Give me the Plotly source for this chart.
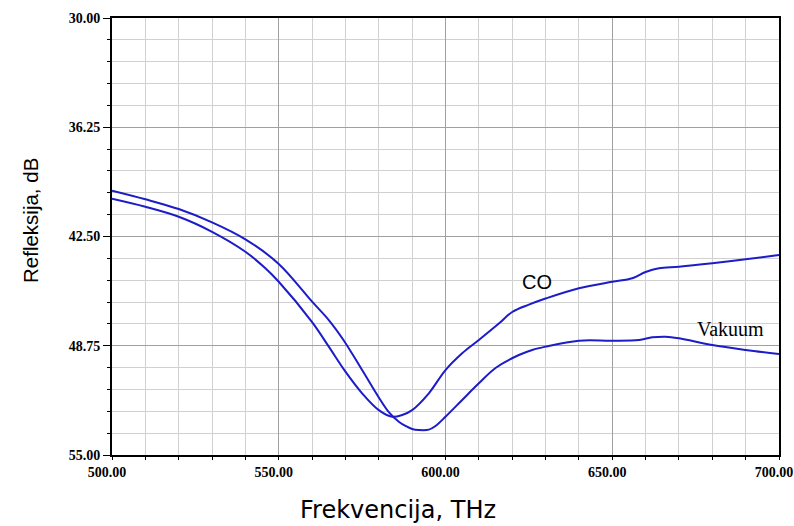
import plotly.graph_objects as go

# Frequency (THz) and reflection (dB)
vak_f = [500, 510, 520, 530, 540, 550, 560, 565, 569.4, 575, 580, 583, 586, 588, 590, 592, 595,
         597, 600, 605, 610, 615, 622, 626, 630, 640, 650, 658, 662, 666, 670, 680, 690, 700]
vak_db = [39.88, 40.37, 40.93, 41.69, 42.66, 44.07, 46.23, 47.28, 48.42, 50.14, 51.71, 52.55,
          53.10, 53.34, 53.51, 53.57, 53.55, 53.34, 52.81, 51.85, 50.90, 50.02, 49.28, 48.99,
          48.80, 48.46, 48.46, 48.42, 48.27, 48.23, 48.32, 48.71, 48.99, 49.22]

co_f = [500, 510, 520, 530, 540, 546, 550, 560, 565, 570, 575, 580, 584, 587, 590, 595, 600,
        605, 610, 616, 620, 625, 630, 640, 650, 656, 660, 664, 670, 680, 690, 700]
co_db = [40.34, 40.80, 41.37, 42.23, 43.37, 44.32, 45.09, 47.40, 48.80, 50.23, 51.47, 52.43,
         52.81, 52.71, 52.43, 51.47, 50.14, 49.18, 48.42, 47.48, 46.82, 46.40, 46.05, 45.46,
         45.09, 44.89, 44.53, 44.32, 44.23, 44.03, 43.80, 43.56]

x_ticks = [500, 550, 600, 650, 700]
y_ticks = [30, 36.25, 42.5, 48.75, 55]

line_color = "#1c1cc8"

fig = go.Figure()
fig.add_trace(go.Scatter(x=vak_f, y=vak_db, mode="lines", name="Vakuum",
                         line=dict(color=line_color, width=2, shape="spline", smoothing=1.0),
                         showlegend=False))
fig.add_trace(go.Scatter(x=co_f, y=co_db, mode="lines", name="CO",
                         line=dict(color=line_color, width=2, shape="spline", smoothing=1.0),
                         showlegend=False))

# in-plot labels
fig.add_annotation(x=627.3, y=45.13, text="CO", showarrow=False,
                   font=dict(family="Liberation Sans, Arial", size=20, color="black"))
fig.add_annotation(x=685.5, y=47.82, text="Vakuum", showarrow=False,
                   font=dict(family="Liberation Serif, Times New Roman", size=20, color="black"))

# axis titles
fig.add_annotation(xref="paper", yref="paper", x=-0.1214, y=0.5355, text="Refleksija, dB",
                   textangle=-90, showarrow=False, xanchor="center", yanchor="middle",
                   font=dict(family="Liberation Sans, Arial", size=20.5, color="black"))
fig.add_annotation(xref="paper", yref="paper", x=(398 - 112) / 667, y=(455 - 510) / 437,
                   text="Frekvencija, THz", showarrow=False, xanchor="center", yanchor="middle",
                   font=dict(family="DejaVu Sans", size=24, color="black"))

tick_font = dict(family="Liberation Serif, Times New Roman", size=14, color="black")

fig.update_layout(
    width=794, height=526, autosize=False,
    margin=dict(l=112, r=15, t=18, b=71),
    paper_bgcolor="white", plot_bgcolor="white",
    font=dict(family="Liberation Sans, Arial", color="black"),
    xaxis=dict(
        range=[500, 700], tickvals=x_ticks, ticktext=[f"<b>{v:.2f}</b>" for v in x_ticks],
        tickfont=tick_font, ticks="outside", ticklen=3, tickcolor="black",
        ticklabelshift=-5, ticklabeloverflow="allow", automargin=False,
        showgrid=True, gridcolor="#a0a0a0", gridwidth=1,
        showline=True, linecolor="black", linewidth=2, mirror=True,
        zeroline=False,
        minor=dict(dtick=10, showgrid=True, gridcolor="#d0d0d0", gridwidth=1,
                   ticks="outside", ticklen=3, tickcolor="black"),
    ),
    yaxis=dict(
        range=[55, 30], tickvals=y_ticks, ticktext=[f"<b>{v:.2f}</b>" for v in y_ticks],
        tickfont=tick_font, ticks="outside", ticklen=7, tickcolor="black",
        ticklabeloverflow="allow", automargin=False,
        showgrid=True, gridcolor="#a0a0a0", gridwidth=1,
        showline=True, linecolor="black", linewidth=2, mirror=True,
        zeroline=False,
        minor=dict(dtick=1.25, showgrid=True, gridcolor="#d0d0d0", gridwidth=1,
                   ticks="outside", ticklen=3, tickcolor="black"),
    ),
)

fig.write_html("out.html", config={"displayModeBar": False, "responsive": False},
               post_script="document.body.style.margin='0';")
